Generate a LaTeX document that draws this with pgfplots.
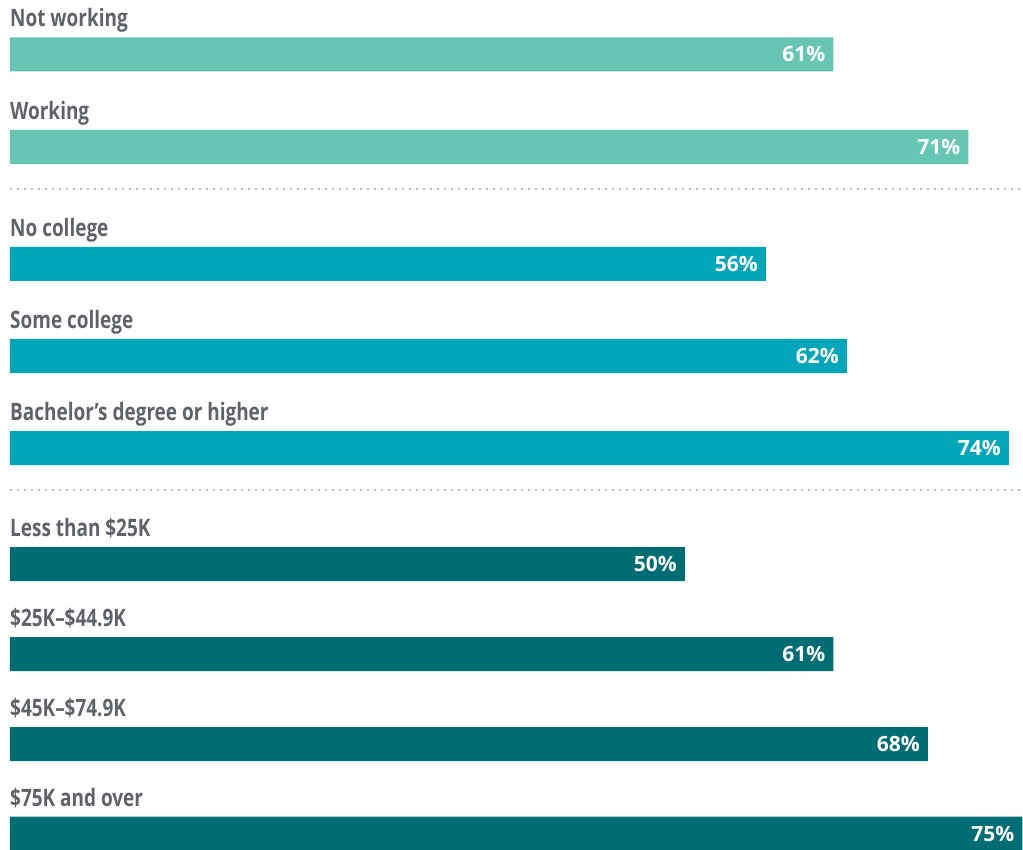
\documentclass[border=0pt]{standalone}
\usepackage{pgfplots}
\pgfplotsset{compat=1.18}
\usepackage{fontspec}
\setmainfont{Open Sans}
\newfontfamily\condfont{Open Sans}[FakeStretch=0.79]
\definecolor{cA}{HTML}{66C5B3}
\definecolor{cB}{HTML}{00A5B9}
\definecolor{cC}{HTML}{006D75}
\definecolor{lab}{HTML}{5F6369}
\definecolor{sep}{HTML}{BDBDBD}
\begin{document}
\begin{tikzpicture}
\begin{axis}[
  width=1023pt, height=850pt, scale only axis,
  xmin=-0.7407, xmax=75.037, ymin=0, ymax=850, y dir=reverse,
  hide axis, clip=false,
  xbar, bar width=34pt, bar shift=0pt,
  point meta=x,
  /pgf/number format/assume math mode=true,
  nodes near coords={\pgfmathprintnumber{\pgfplotspointmeta}\%},
  every node near coord/.append style={anchor=east, xshift=-8pt, text=white, font=\fontsize{21}{24}\selectfont\bfseries, inner sep=0pt},
]
\addplot[fill=cA, draw=none] coordinates {(61,54.5) (71,147)};
\addplot[fill=cB, draw=none] coordinates {(56,264) (62,356) (74,448)};
\addplot[fill=cC, draw=none] coordinates {(50,564) (61,654) (68,744) (75,833.5)};

\draw[sep, line width=1.6pt, dash pattern=on 1.6pt off 5.4pt] (axis cs:0,189) -- (axis cs:75.03,189);
\draw[sep, line width=1.6pt, dash pattern=on 1.6pt off 5.4pt] (axis cs:0,490) -- (axis cs:75.03,490);

\begin{scope}[every node/.style={anchor=base west, inner sep=0pt, text=lab, font=\condfont\bfseries\fontsize{24}{28}\selectfont}]
\node at (axis cs:0,27) {Not working};
\node at (axis cs:0,119.5) {Working};
\node at (axis cs:0,236.5) {No college};
\node at (axis cs:0,328.5) {Some college};
\node at (axis cs:0,420.5) {Bachelor’s degree or higher};
\node at (axis cs:0,536.5) {Less than \$25K};
\node at (axis cs:0,626.5) {\$25K–\$44.9K};
\node at (axis cs:0,716.5) {\$45K–\$74.9K};
\node at (axis cs:0,806) {\$75K and over};
\end{scope}
\end{axis}
\pgfresetboundingbox
\path[use as bounding box] (0,0) rectangle (1023pt,850pt);
\end{tikzpicture}
\end{document}
